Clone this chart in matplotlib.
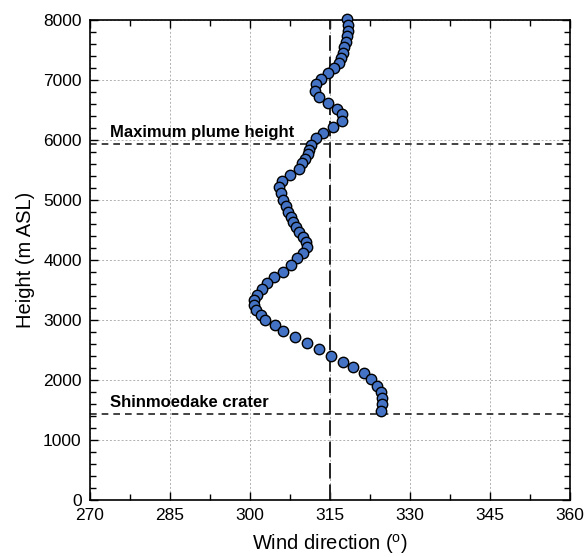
import numpy as np
import matplotlib.pyplot as plt
from matplotlib.ticker import MultipleLocator

plt.rcParams['font.family'] = ['Liberation Sans', 'DejaVu Sans']

# wind profile
height = [8010, 7920, 7820, 7730, 7640, 7545, 7455, 7360, 7280, 7195,
          7110, 7010, 6930, 6820, 6710, 6610, 6520, 6430, 6320, 6220,
          6110, 6030, 5920, 5840, 5760, 5690, 5610, 5510, 5420, 5320,
          5220, 5110, 5000, 4900, 4805, 4720, 4640, 4555, 4470, 4390,
          4305, 4210, 4110, 4030, 3920, 3805, 3710, 3620, 3520, 3420,
          3330, 3250, 3160, 3080, 3000, 2910, 2815, 2710, 2610, 2510,
          2405, 2305, 2210, 2110, 2010, 1900, 1800, 1700, 1600, 1490]
direction = [318.1, 318.3, 318.3, 318.2, 318.0, 317.7, 317.4, 317.0, 316.6, 315.8,
             314.6, 313.4, 312.4, 312.2, 313.0, 314.7, 316.3, 317.2, 317.2, 315.5,
             313.6, 312.3, 311.4, 311.1, 310.9, 310.4, 309.7, 309.2, 307.5, 306.0,
             305.5, 305.8, 306.2, 306.8, 307.2, 307.6, 308.1, 308.6, 309.2, 309.9,
             310.5, 310.7, 310.0, 308.9, 307.6, 306.1, 304.5, 303.2, 302.2, 301.3,
             300.8, 300.7, 301.2, 302.0, 302.8, 304.6, 306.2, 308.4, 310.7, 313.0,
             315.2, 317.4, 319.4, 321.4, 322.6, 323.8, 324.5, 324.8, 324.7, 324.5]

plume_top = 5940
crater = 1440
mean_dir = 315

fig = plt.figure(figsize=(5.85, 5.57), dpi=100)
ax = fig.add_axes([0.1538, 0.1023, 0.8205, 0.8618])

ax.grid(True, which='major', color='#b0b0b0', linestyle=(0, (2, 2)), linewidth=0.7)
ax.set_axisbelow(True)

ax.axvline(mean_dir, color='#222222', linestyle=(0, (8, 3)), linewidth=1.4, zorder=2)
ax.axhline(plume_top, color='#222222', linestyle=(0, (4, 3)), linewidth=1.2, zorder=2)
ax.axhline(crater, color='#222222', linestyle=(0, (4, 3)), linewidth=1.2, zorder=2)

ax.plot(direction, height, 'o', markersize=7.5, markerfacecolor='#4472C4',
        markeredgecolor='black', markeredgewidth=1.0, zorder=3, clip_on=False)

ax.text(273.8, plume_top + 60, 'Maximum plume height', fontsize=12,
        fontweight='bold', va='bottom')
ax.text(273.8, crater + 60, 'Shinmoedake crater', fontsize=12,
        fontweight='bold', va='bottom')

ax.set_xlim(270, 360)
ax.set_ylim(0, 8000)
ax.xaxis.set_major_locator(MultipleLocator(15))
ax.xaxis.set_minor_locator(MultipleLocator(7.5))
ax.yaxis.set_major_locator(MultipleLocator(1000))
ax.yaxis.set_minor_locator(MultipleLocator(200))
ax.tick_params(which='both', direction='in', top=True, right=True,
               labelsize=12.5, width=1.0)
ax.tick_params(which='major', length=6, pad=6)
ax.tick_params(which='minor', length=4)
for s in ax.spines.values():
    s.set_linewidth(1.2)

ax.set_xlabel('Wind direction ($\\mathregular{^o}$)', fontsize=14.5, labelpad=6)
ax.set_ylabel('Height (m ASL)', fontsize=14.5, labelpad=6)

fig.savefig('out.png', dpi=100)
